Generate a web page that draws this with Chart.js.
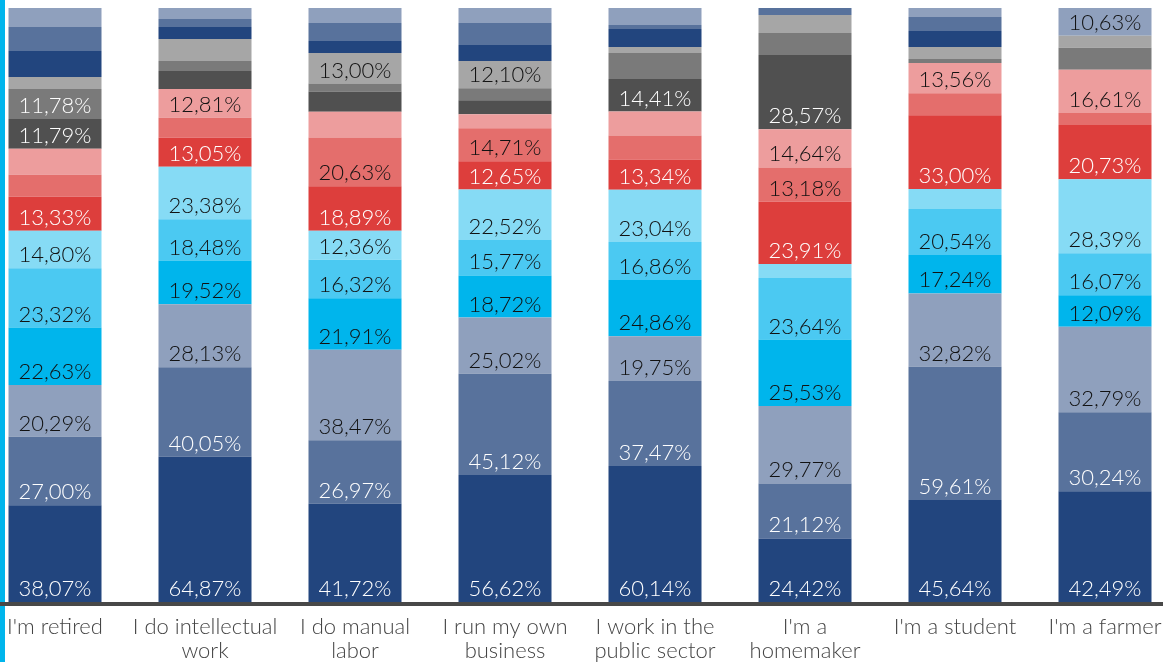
<!DOCTYPE html>
<html>
<head>
<meta charset="utf-8">
<script src="https://cdn.jsdelivr.net/npm/chart.js@4/dist/chart.umd.min.js"></script>
<style>
  html, body { margin: 0; padding: 0; background: #fff; overflow: hidden; }
  #wrap { position: absolute; left: -20px; top: 0; width: 1200px; height: 662px; }
</style>
</head>
<body>
<div id="wrap"><canvas id="chart"></canvas></div>
<script>
const categories = [
	"I'm retired",
	["I do intellectual", "work"],
	["I do manual", "labor"],
	["I run my own", "business"],
	["I work in the", "public sector"],
	["I'm a", "homemaker"],
	"I'm a student",
	"I'm a farmer"
];

// series from the bottom of each bar to the top
const blueDark1 = [38.07, 64.87, 41.72, 56.62, 60.14, 24.42, 45.64, 42.49];
const blueMid1 = [27.00, 40.05, 26.97, 45.12, 37.47, 21.12, 59.61, 30.24];
const blueLight1 = [20.29, 28.13, 38.47, 25.02, 19.75, 29.77, 32.82, 32.79];
const cyanDark = [22.63, 19.52, 21.91, 18.72, 24.86, 25.53, 17.24, 12.09];
const cyanMid = [23.32, 18.48, 16.32, 15.77, 16.86, 23.64, 20.54, 16.07];
const cyanLight = [14.80, 23.38, 12.36, 22.52, 23.04, 5.38, 8.95, 28.39];
const redDark = [13.33, 13.05, 18.89, 12.65, 13.34, 23.91, 33.00, 20.73];
const redMid = [8.66, 8.94, 20.63, 14.71, 10.60, 13.18, 9.84, 4.60];
const redLight = [10.23, 12.81, 11.04, 6.24, 10.60, 14.64, 13.56, 16.61];
const grayDark = [11.79, 8.04, 8.50, 6.24, 14.41, 28.57, 0, 0];
const grayMid = [11.78, 4.47, 3.40, 5.35, 11.49, 8.45, 1.79, 8.43];
const grayLight = [4.72, 9.83, 13.00, 12.10, 2.65, 6.92, 5.37, 4.60];
const blueDark2 = [10.23, 5.36, 5.10, 7.13, 7.95, 0, 7.16, 0];
const blueMid2 = [9.44, 3.57, 7.65, 9.80, 1.77, 2.69, 6.26, 0];
const blueLight2 = [7.48, 4.92, 6.37, 6.68, 7.51, 0, 4.03, 10.63];

const series = [
	{ name: "blueDark1", values: blueDark1, color: "#22457e", text: "#ffffff" },
	{ name: "blueMid1", values: blueMid1, color: "#58729c", text: "#ffffff" },
	{ name: "blueLight1", values: blueLight1, color: "#8fa0bd", text: "#111111" },
	{ name: "cyanDark", values: cyanDark, color: "#00b5ec", text: "#111111" },
	{ name: "cyanMid", values: cyanMid, color: "#4bc9f2", text: "#111111" },
	{ name: "cyanLight", values: cyanLight, color: "#86dbf5", text: "#111111" },
	{ name: "redDark", values: redDark, color: "#dd3e3c", text: "#ffffff" },
	{ name: "redMid", values: redMid, color: "#e46e6c", text: "#111111" },
	{ name: "redLight", values: redLight, color: "#ed9d9d", text: "#111111" },
	{ name: "grayDark", values: grayDark, color: "#505050", text: "#ffffff" },
	{ name: "grayMid", values: grayMid, color: "#7a7a7a", text: "#ffffff" },
	{ name: "grayLight", values: grayLight, color: "#a6a6a6", text: "#111111" },
	{ name: "blueDark2", values: blueDark2, color: "#22457e", text: "#ffffff" },
	{ name: "blueMid2", values: blueMid2, color: "#58729c", text: "#ffffff" },
	{ name: "blueLight2", values: blueLight2, color: "#8fa0bd", text: "#111111" }
];

// each bar is stretched to 100%
const totals = categories.map((c, i) => series.reduce((s, d) => s + d.values[i], 0));

const datasets = series.map(s => ({
	label: s.name,
	data: s.values.map((v, i) => v / totals[i] * 100),
	backgroundColor: s.color,
	borderWidth: 0,
	barPercentage: 0.62,
	categoryPercentage: 1
}));

const fmt = v => v.toFixed(2).replace(".", ",") + "%";

const segmentLabels = {
	id: "segmentLabels",
	afterDatasetsDraw(chart) {
		const ctx = chart.ctx;
		ctx.save();
		ctx.font = "300 22px 'Lato Light', Lato";
		ctx.textAlign = "center";
		ctx.textBaseline = "alphabetic";
		chart.data.datasets.forEach((ds, di) => {
			const meta = chart.getDatasetMeta(di);
			meta.data.forEach((bar, i) => {
				if (ds.data[i] < 4.47) return;
				ctx.fillStyle = series[di].text;
				ctx.fillText(fmt(series[di].values[i]), bar.x, bar.base - 6);
			});
		});
		ctx.restore();
	}
};

const frameLines = {
	id: "frameLines",
	afterDraw(chart) {
		const ctx = chart.ctx;
		const area = chart.chartArea;
		ctx.save();
		ctx.fillStyle = "#00b5ec";
		ctx.fillRect(20, 0, 5, chart.height);
		ctx.fillStyle = "#484848";
		ctx.fillRect(0, area.bottom, chart.width, 4);
		ctx.restore();
	}
};

new Chart(document.getElementById("chart"), {
	type: "bar",
	data: { labels: categories, datasets: datasets },
	options: {
		responsive: true,
		maintainAspectRatio: false,
		animation: false,
		layout: { padding: { top: 8, left: 0, right: 0, bottom: 0 } },
		plugins: { legend: { display: false }, tooltip: { enabled: false } },
		scales: {
			x: {
				stacked: true,
				grid: { display: false, drawTicks: false },
				border: { display: false },
				ticks: {
					color: "#444444",
					font: { family: "'Lato Light', Lato", weight: "300", size: 22, lineHeight: "24px" },
					padding: 13,
					maxRotation: 0,
					autoSkip: false
				},
				afterFit(scale) { scale.height = 60; }
			},
			y: {
				stacked: true,
				display: false,
				min: 0,
				max: 100
			}
		}
	},
	plugins: [segmentLabels, frameLines]
});
</script>
</body>
</html>
